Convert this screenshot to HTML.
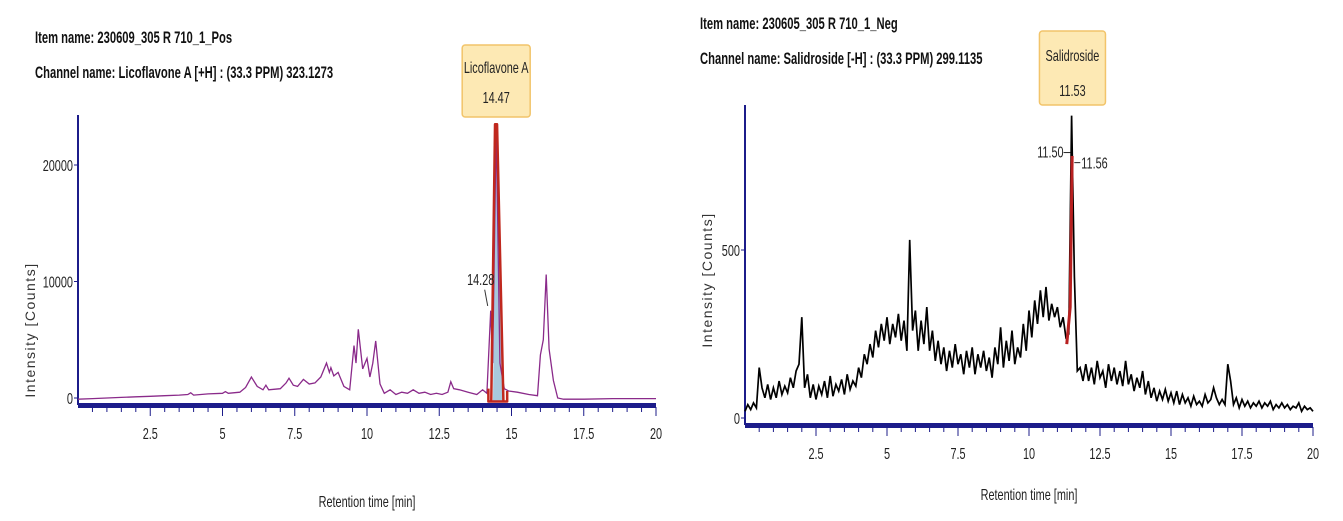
<!DOCTYPE html>
<html><head><meta charset="utf-8"><style>
html,body{margin:0;padding:0;background:#fff;}
svg{display:block;font-family:"Liberation Sans",sans-serif;}
.hd{font-weight:bold;font-size:16.5px;fill:#111;}
.tk{font-size:16px;fill:#222;}
.yt{font-family:"Liberation Sans",sans-serif;font-size:14px;letter-spacing:1.5px;fill:#333;}
</style></head><body>
<svg id="root" width="1343" height="521" viewBox="0 0 1343 521">
<text class="hd cz" x="35" y="43">Item name: 230609_305 R 710_1_Pos</text>
<text class="hd cz" x="35" y="78">Channel name: Licoflavone A [+H] : (33.3 PPM) 323.1273</text>
<text class="hd cz" x="700" y="29">Item name: 230605_305 R 710_1_Neg</text>
<text class="hd cz" x="700" y="64">Channel name: Salidroside [-H] : (33.3 PPM) 299.1135</text>
<g id="left"></g>
<g id="right"></g>
</svg>
<script>
// ---- Left chart data (Licoflavone A) ----
const leftTimes = [0,0.5,1,1.5,2,2.5,3,3.5,3.8,3.9,4.0,4.5,5,5.1,5.2,5.6,5.8,6.0,6.2,6.4,6.5,6.6,7.0,7.2,7.3,7.45,7.6,7.8,8.0,8.2,8.4,8.6,8.7,8.75,8.85,9.0,9.2,9.4,9.55,9.62,9.7,9.85,10.0,10.1,10.2,10.3,10.45,10.6,10.8,11.0,11.2,11.4,11.6,11.8,12.0,12.2,12.4,12.6,12.8,12.9,13.0,13.2,13.5,13.8,14.0,14.15,14.28,14.35,14.47,14.6,14.75,14.9,15.2,15.6,15.9,16.0,16.1,16.2,16.3,16.45,16.6,16.8,17.5,18.5,19.2,20];
const leftValues = [-100,-50,0,50,100,150,200,250,300,450,250,350,400,550,400,500,900,1800,1000,700,1100,700,800,1300,1700,1100,1000,1600,1200,1300,1800,3000,2200,2600,1900,2200,1000,700,4500,3000,5900,2500,3400,1800,3000,4900,1200,400,700,300,500,400,700,400,500,300,400,300,500,1400,800,700,500,300,700,400,7500,3000,23500,3000,800,600,500,300,200,3700,5000,10600,4200,1500,0,-100,-100,-50,-50,-50];
const leftXTicks = [2.5,5,7.5,10,12.5,15,17.5,20];
const leftYTicks = [0,10000,20000];
const leftPeakTime = 14.47, leftPeakValue = 23500;
// ---- Right chart data (Salidroside), 0.1 min step ----
const rightStep = 0.1;
const rightValues = [20,40,25,45,30,150,90,60,100,55,
90,60,110,70,95,75,120,90,140,160,
300,90,130,60,100,55,95,70,110,60,
125,65,100,80,115,70,130,85,110,95,
150,120,190,160,220,180,260,210,280,230,
300,220,280,240,310,230,290,200,530,260,
320,200,290,220,330,200,260,170,230,160,
210,140,200,150,220,160,190,130,200,150,
210,130,190,150,200,140,180,120,210,160,
270,150,230,170,260,160,210,180,280,200,
320,240,350,280,380,300,390,290,340,300,
330,270,300,240,250,900,420,140,150,110,
160,110,150,100,170,120,140,90,160,110,
150,100,140,95,170,100,130,80,120,90,
140,70,110,60,90,50,80,55,85,50,
75,45,80,40,70,45,60,35,65,40,
50,35,70,45,55,90,60,40,55,40,
160,110,40,60,30,55,35,50,30,45,
35,50,30,45,35,50,25,40,30,45,
30,40,25,35,30,45,20,35,25,30,20];
const rightXTicks = [2.5,5,7.5,10,12.5,15,17.5,20];
const rightYTicks = [0,500];
const rightPeakTime = 11.53;

const NS='http://www.w3.org/2000/svg';
function mk(parent,tag,attrs,text){const e=document.createElementNS(NS,tag);for(const k in attrs)e.setAttribute(k,attrs[k]);if(text!==undefined)e.textContent=text;parent.appendChild(e);if(tag==='text'&&attrs.class==='tk')e.classList.add('cz');return e;}

function drawAxes(g,o){
  const {x0,x1,yTop,axisY,xs,ys,xTicks,yTicks,ytX,ytY}=o;
  const ya=mk(g,'line',{x1:x0,y1:yTop,x2:x0,y2:axisY,stroke:'#1c1c8a','stroke-width':2});
  
  
  const xa=mk(g,'rect',{x:x0,y:axisY-2,width:x1-x0,height:5,fill:'#1c1c8a'});
  
  
  for(let t=0.5;t<=20.001;t+=0.5){
    const major=Math.abs(t/2.5-Math.round(t/2.5))<1e-6;
    mk(g,'line',{x1:xs(t),x2:xs(t),y1:axisY+2,y2:axisY+(major?11:7),stroke:'#1c1c8a','stroke-width':1});
  }
  xTicks.forEach(t=>{
    const l=mk(g,'text',{x:xs(t),y:axisY+34,'text-anchor':'middle',class:'tk'},String(t));
    
    
  });
  yTicks.forEach(v=>{
    mk(g,'line',{x1:x0-4,x2:x0,y1:ys(v),y2:ys(v),stroke:'#1c1c8a','stroke-width':1});
    const l=mk(g,'text',{x:x0-5,y:ys(v)+6,'text-anchor':'end',class:'tk'},String(v));
    
    
  });
  const xt=mk(g,'text',{x:(x0+x1)/2,y:axisY+(o.xtOff||100),'text-anchor':'middle',class:'tk'},'Retention time [min]');
  
  
  const yt=mk(g,'text',{x:0,y:0,'text-anchor':'middle',class:'yt',transform:`translate(${ytX},${ytY}) rotate(-90)`},'Intensity [Counts]');
  
  
}

// Left chart
(function(){
  const g=document.getElementById('left');
  const x0=78,x1=656,axisY=405;
  const xs=t=>x0+(x1-x0)*t/20;
  const ys=v=>398-v*116.5/10000;
  drawAxes(g,{x0,x1,yTop:115,axisY,xs,ys,xTicks:leftXTicks,yTicks:leftYTicks,ytX:35,ytY:330,xtOff:102});
  const fill=mk(g,'polygon',{points:`${xs(14.36)},${ys(-250)} ${xs(leftPeakTime)},${ys(leftPeakValue)} ${xs(14.7)},${ys(-250)}`,fill:'#a8c8dc'});
  
  
  const pts=leftTimes.map((t,i)=>`${xs(t).toFixed(1)},${ys(leftValues[i]).toFixed(1)}`).join(' ');
  const line=mk(g,'polyline',{points:pts,fill:'none',stroke:'#8a2a8a','stroke-width':1.3});
  
  
  const red=mk(g,'path',{d:`M${xs(14.2)},${ys(800)} L${xs(14.2)},${ys(-300)} L${xs(14.85)},${ys(-300)} L${xs(14.85)},${ys(600)} M${xs(14.3)},${ys(-250)} L${xs(14.43)},${ys(leftPeakValue)} L${xs(14.5)},${ys(leftPeakValue)} L${xs(14.72)},${ys(-250)}`,fill:'none',stroke:'#c0281e','stroke-width':2.5,'stroke-linejoin':'round'});
  
  
  const lab=mk(g,'text',{x:xs(14.28)-10,y:ys(9700),'text-anchor':'middle',class:'tk'},'14.28');
  
  
  mk(g,'line',{x1:xs(14.28)-6,y1:ys(9300),x2:xs(14.28)-3,y2:ys(7900),stroke:'#333','stroke-width':1});
  const bx=xs(leftPeakTime);
  const box=mk(g,'rect',{x:bx-34,y:45,width:68,height:72,rx:3,fill:'#fde9b4',stroke:'#f2c46a','stroke-width':1.5});
  
  
  mk(g,'text',{x:bx,y:73,'text-anchor':'middle',class:'tk'},'Licoflavone A');
  mk(g,'text',{x:bx,y:103,'text-anchor':'middle',class:'tk'},String(leftPeakTime));
})();

// Right chart
(function(){
  const g=document.getElementById('right');
  const x0=745,x1=1313,axisY=425;
  const xs=t=>x0+(x1-x0)*t/20;
  const ys=v=>418-v*168/500;
  drawAxes(g,{x0,x1,yTop:105,axisY,xs,ys,xTicks:rightXTicks,yTicks:rightYTicks,ytX:712,ytY:280,xtOff:75});
  const pts=rightValues.map((v,i)=>`${xs(i*rightStep).toFixed(1)},${ys(v).toFixed(1)}`).join(' ');
  const line=mk(g,'polyline',{points:pts,fill:'none',stroke:'#000','stroke-width':1.7});
  
  
  const red=mk(g,'path',{d:`M${xs(11.33)},${ys(220)} L${xs(11.45)},${ys(330)} L${xs(11.52)},${ys(780)}`,fill:'none',stroke:'#b82020','stroke-width':3});
  
  
  const l1=mk(g,'text',{x:xs(11.5)-8,y:ys(790)+5,'text-anchor':'end',class:'tk'},'11.50');
  
  
  mk(g,'line',{x1:xs(11.5)-8,x2:xs(11.5)-1,y1:ys(790),y2:ys(790),stroke:'#222'});
  const l2=mk(g,'text',{x:xs(11.56)+8,y:ys(760)+6,class:'tk'},'11.56');
  
  
  mk(g,'line',{x1:xs(11.56)+1,x2:xs(11.56)+7,y1:ys(760),y2:ys(760),stroke:'#222'});
  const bx=xs(rightPeakTime);
  const box=mk(g,'rect',{x:bx-33,y:31,width:66,height:74,rx:3,fill:'#fde9b4',stroke:'#f2c46a','stroke-width':1.5});
  
  
  mk(g,'text',{x:bx,y:61,'text-anchor':'middle',class:'tk'},'Salidroside');
  mk(g,'text',{x:bx,y:96,'text-anchor':'middle',class:'tk'},String(rightPeakTime));
})();

// condense all text horizontally (reference uses a narrow font)
document.querySelectorAll('text.cz').forEach(t=>{
  const w=t.getComputedTextLength();
  t.setAttribute('textLength',(w*0.68).toFixed(1));
  t.setAttribute('lengthAdjust','spacingAndGlyphs');
});
</script>
</body></html>
